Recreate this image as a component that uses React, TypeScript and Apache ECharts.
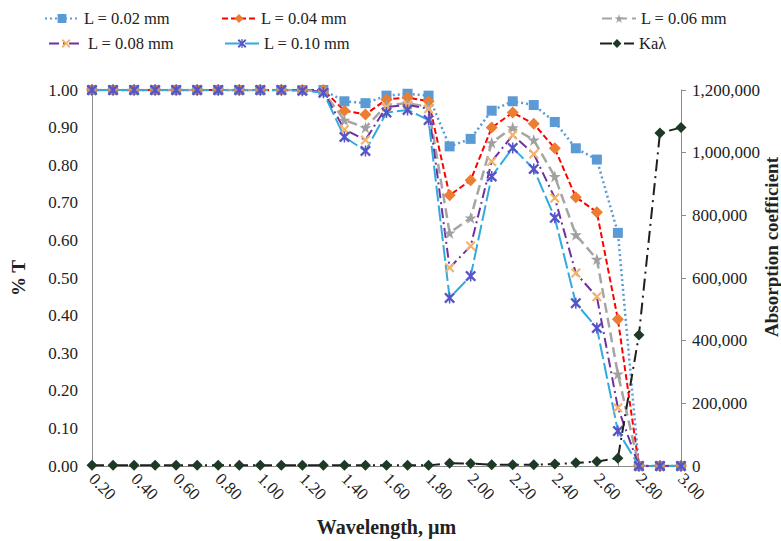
import React, { useEffect, useRef } from "react";
import * as echarts from "echarts";

const wavelength = [
  "0.20", "0.30", "0.40", "0.50", "0.60", "0.70", "0.80", "0.90", "1.00", "1.10",
  "1.20", "1.30", "1.40", "1.50", "1.60", "1.70", "1.80", "1.90", "2.00", "2.10",
  "2.20", "2.30", "2.40", "2.50", "2.60", "2.70", "2.80", "2.90", "3.00",
];

const L002 = [1, 1, 1, 1, 1, 1, 1, 1, 1, 1, 1, 1.0, 0.97, 0.965, 0.985, 0.99, 0.985, 0.85, 0.87, 0.945, 0.97, 0.96, 0.915, 0.845, 0.815, 0.62, 0, 0, 0];
const L004 = [1, 1, 1, 1, 1, 1, 1, 1, 1, 1, 1, 1.0, 0.945, 0.935, 0.975, 0.98, 0.97, 0.72, 0.76, 0.9, 0.94, 0.91, 0.845, 0.715, 0.675, 0.39, 0, 0, 0];
const L006 = [1, 1, 1, 1, 1, 1, 1, 1, 1, 1, 1, 0.995, 0.92, 0.9, 0.96, 0.965, 0.955, 0.62, 0.66, 0.86, 0.9, 0.867, 0.77, 0.615, 0.55, 0.245, 0, 0, 0];
const L008 = [1, 1, 1, 1, 1, 1, 1, 1, 1, 1, 1, 0.995, 0.895, 0.867, 0.955, 0.96, 0.95, 0.527, 0.585, 0.81, 0.88, 0.83, 0.713, 0.513, 0.45, 0.155, 0, 0, 0];
const L010 = [1, 1, 1, 1, 1, 1, 1, 1, 1, 1, 0.998, 0.993, 0.875, 0.838, 0.94, 0.947, 0.92, 0.447, 0.505, 0.77, 0.846, 0.79, 0.66, 0.433, 0.367, 0.093, 0, 0, 0];
const Ka = [2000, 2000, 2000, 2000, 2000, 2000, 2000, 2000, 2000, 2000, 2000, 2000, 2000, 2000, 2000, 2000, 2000, 9000, 8000, 4000, 4000, 4000, 6000, 10000, 14000, 25000, 418000, 1063000, 1080000];

const leftTicks = [0, 1, 0.1];
const rightTicks = [0, 1200000, 200000];
const rightAxisTitle = "Absorption coefficient";

const FONT = "'Liberation Serif', 'Times New Roman', serif";

const starPath = "path://M5,0 L6.2,3.6 L10,3.6 L6.9,5.9 L8.1,9.5 L5,7.3 L1.9,9.5 L3.1,5.9 L0,3.6 L3.8,3.6 Z";
const xPath = "path://M1.5,0 L5,3.5 L8.5,0 L10,1.5 L6.5,5 L10,8.5 L8.5,10 L5,6.5 L1.5,10 L0,8.5 L3.5,5 L0,1.5 Z";
const astPath = "path://M1.5,0 L4.3,2.8 L4.3,0 L5.7,0 L5.7,2.8 L8.5,0 L10,1.5 L6.5,5 L10,8.5 L8.5,10 L5.7,7.2 L5.7,10 L4.3,10 L4.3,7.2 L1.5,10 L0,8.5 L3.5,5 L0,1.5 Z";

export default function App() {
  const ref = useRef<HTMLDivElement>(null);
  useEffect(() => {
    if (!ref.current) return;
    const chart = echarts.init(ref.current, undefined, { renderer: "svg" });
    const mk = (
      name: string,
      data: number[],
      lineColor: string,
      type: any,
      width: number,
      symbol: string,
      symColor: string,
      size: number,
      yIndex = 0
    ) => ({
      name,
      type: "line",
      data,
      yAxisIndex: yIndex,
      symbol,
      symbolSize: size,
      showAllSymbol: true,
      lineStyle: { color: lineColor, type, width },
      itemStyle: { color: symColor, borderColor: symColor, borderWidth: 0 },
      z: yIndex === 1 ? 3 : 2,
    });
    const legendText = { fontFamily: FONT, fontSize: 16.5, color: "#222" };
    const lg = (name: string, left: number, top: number) => ({
      data: [name],
      left,
      top,
      itemWidth: 34,
      itemHeight: 11,
      itemGap: 0,
      textStyle: legendText,
      selectedMode: false,
    });
    const axisText = { fontFamily: FONT, fontSize: 17, color: "#222" };
    const nameText = { fontFamily: FONT, fontSize: 19, fontWeight: "bold", color: "#222" };
    chart.setOption({
      animation: false,
      backgroundColor: "#fff",
      legend: [
        lg("L = 0.02 mm", 39, 5),
        lg("L = 0.04 mm", 216, 5),
        lg("L = 0.06 mm", 596, 5),
        lg("L = 0.08 mm", 43, 30),
        lg("L = 0.10 mm", 219, 30),
        lg("Kaλ", 594, 30),
      ],
      grid: { left: 92, right: 100, top: 90, bottom: 75, outerBoundsMode: "none", containLabel: false },
      graphic: [
        {
          type: "text",
          x: 771,
          y: 247,
          rotation: Math.PI / 2,
          style: {
            text: rightAxisTitle,
            fontFamily: FONT,
            fontSize: 19,
            fontWeight: "bold",
            fill: "#222",
            align: "center",
            verticalAlign: "middle",
          },
        },
      ],
      xAxis: {
        type: "category",
        data: wavelength,
        boundaryGap: false,
        name: "Wavelength, µm",
        nameLocation: "middle",
        nameGap: 51,
        nameTextStyle: { ...nameText, fontSize: 20 },
        axisLine: { lineStyle: { color: "#8c8c8c", width: 1 } },
        axisTick: { inside: true, length: 4, lineStyle: { color: "#8c8c8c" }, alignWithLabel: true, interval: 0 },
        axisLabel: { ...axisText, rotate: -45, interval: 1, margin: 10 },
        splitLine: { show: false },
      },
      yAxis: [
        {
          type: "value",
          min: leftTicks[0],
          max: leftTicks[1],
          interval: leftTicks[2],
          name: "% T",
          nameLocation: "middle",
          nameGap: 64,
          nameRotate: 90,
          nameTextStyle: nameText,
          axisLine: { show: true, lineStyle: { color: "#8c8c8c" } },
          axisTick: { show: false },
          axisLabel: { ...axisText, formatter: (v: number) => v.toFixed(2), margin: 14 },
          splitLine: { show: false },
        },
        {
          type: "value",
          min: rightTicks[0],
          max: rightTicks[1],
          interval: rightTicks[2],
          axisLine: { show: true, lineStyle: { color: "#8c8c8c" } },
          axisTick: { show: true, length: 5, lineStyle: { color: "#8c8c8c" } },
          axisLabel: { ...axisText, formatter: (v: number) => v.toLocaleString("en-US"), margin: 11 },
          splitLine: { show: false },
        },
      ],
      series: [
        mk("L = 0.02 mm", L002, "#5B9BD5", [2, 3], 2.5, "rect", "#5B9BD5", 10),
        mk("L = 0.04 mm", L004, "#FF0000", [6, 3], 2, "diamond", "#ED7D31", 12),
        mk("L = 0.06 mm", L006, "#A5A5A5", [10, 5], 2.5, starPath, "#A0A0A0", 12),
        mk("L = 0.08 mm", L008, "#7030A0", [10, 4, 2, 4], 2, xPath, "#F4B26A", 10),
        mk("L = 0.10 mm", L010, "#33AADD", [16, 4], 2, astPath, "#5555C8", 11),
        mk("Kaλ", Ka, "#1f1f1f", [12, 5, 2, 5], 2, "diamond", "#1E3A26", 11, 1),
      ],
    });
    return () => chart.dispose();
  }, []);
  return <div ref={ref} style={{ width: 781, height: 541, position: "absolute", left: 0, top: 0 }} />;
}
